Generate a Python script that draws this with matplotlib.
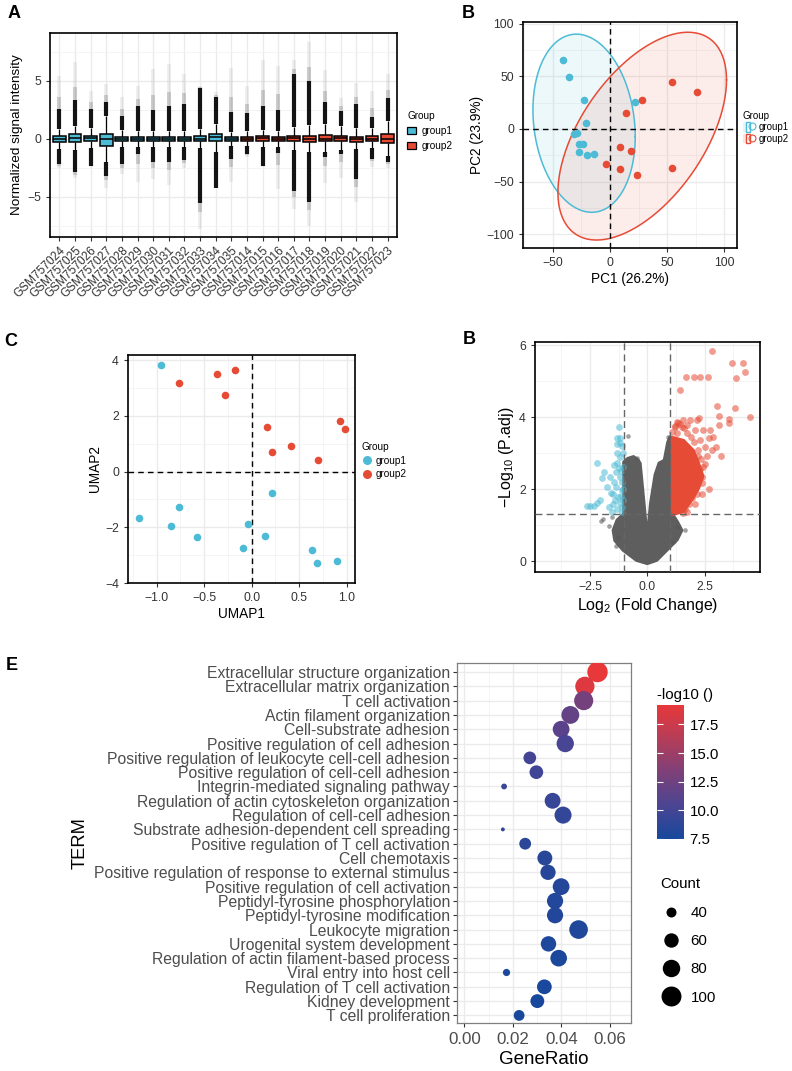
import numpy as np
import matplotlib as mpl
import matplotlib.pyplot as plt
from matplotlib.patches import Patch
from matplotlib.lines import Line2D
from matplotlib.legend_handler import HandlerTuple
from matplotlib.colors import LinearSegmentedColormap, Normalize

plt.rcParams['font.family'] = ['Liberation Sans', 'DejaVu Sans']
plt.rcParams['mathtext.default'] = 'regular'

W, H = 792, 1071
BLUE = '#4DBBD5'
RED = '#E64B35'

# ---------------- data ----------------
# A: boxplot summaries per sample
samples = ['GSM757024', 'GSM757025', 'GSM757026', 'GSM757027', 'GSM757028', 'GSM757029',
           'GSM757030', 'GSM757031', 'GSM757032', 'GSM757033', 'GSM757034', 'GSM757035',
           'GSM757014', 'GSM757015', 'GSM757016', 'GSM757017', 'GSM757018', 'GSM757019',
           'GSM757020', 'GSM757021', 'GSM757022', 'GSM757023']
sample_group = [1] * 12 + [2] * 10
box_med = [0.0, 0.1, 0.05, 0.0, 0.0, 0.0, 0.0, 0.0, 0.0, 0.0, 0.15, 0.0,
           0.0, 0.05, 0.0, 0.05, 0.0, 0.0, 0.05, -0.05, 0.0, 0.0]
box_q1 = [-0.3, -0.25, -0.2, -0.6, -0.2, -0.15, -0.15, -0.15, -0.15, -0.2, -0.2, -0.15,
          -0.15, -0.15, -0.15, -0.2, -0.25, -0.2, -0.15, -0.25, -0.2, -0.35]
box_q3 = [0.25, 0.4, 0.25, 0.4, 0.15, 0.15, 0.15, 0.15, 0.15, 0.2, 0.45, 0.15,
          0.15, 0.2, 0.15, 0.25, 0.25, 0.3, 0.2, 0.15, 0.2, 0.4]
whisk_lo = [-0.85, -1.0, -0.8, -2.0, -0.7, -0.7, -0.7, -0.7, -0.7, -0.8, -1.1, -0.6,
            -0.6, -0.7, -0.7, -1.0, -1.1, -1.1, -1.0, -0.9, -0.8, -1.5]
whisk_hi = [0.85, 1.1, 0.9, 2.0, 0.75, 0.7, 0.7, 0.7, 0.7, 0.8, 1.3, 0.6,
            0.7, 0.75, 0.7, 1.0, 1.2, 1.3, 1.1, 0.9, 0.9, 1.5]
dense_lo = [-2.2, -2.9, -2.3, -3.2, -2.2, -1.3, -2.0, -2.0, -1.8, -5.5, -4.2, -1.7,
            -1.3, -2.3, -1.2, -4.5, -5.4, -1.6, -1.3, -3.5, -1.7, -2.0]
dense_hi = [2.6, 3.3, 2.6, 3.2, 2.0, 2.8, 2.5, 2.8, 3.0, 4.4, 3.6, 2.3,
            2.2, 2.8, 2.5, 5.6, 5.0, 3.2, 2.4, 3.0, 1.9, 3.5]
out_lo = [-2.5, -3.4, -2.4, -4.2, -3.0, -3.7, -3.5, -4.0, -2.5, -7.8, -4.2, -3.7,
          -1.6, -2.4, -4.3, -6.0, -7.5, -3.8, -3.4, -5.4, -2.4, -2.5]
out_hi = [5.4, 6.6, 4.1, 4.7, 3.6, 4.5, 6.0, 6.4, 5.6, 4.5, 4.0, 6.1,
          4.5, 6.8, 6.3, 6.8, 8.3, 5.9, 3.5, 4.8, 4.1, 5.6]

# B: PCA scores
pc1_g1 = [-41.4, -35.8, -23.1, -21.1, -31.8, -28.7, -26.9, -23.4, -26.9, -20.5, -13.9, 22.0]
pc2_g1 = [65.7, 48.9, 27.6, 5.4, -5.1, -3.5, -14.6, -14.0, -22.2, -24.4, -23.8, 25.1]
pc1_g2 = [53.8, 76.1, 28.4, 13.6, 8.7, 18.2, -3.5, 8.7, 23.4, 54.4]
pc2_g2 = [44.4, 34.9, 27.6, 14.9, -17.1, -20.6, -33.3, -38.1, -43.5, -37.5]

# C: UMAP
um1_g1 = [-0.951, -0.761, -1.189, -0.846, -0.575, -0.039, -0.091, 0.214, 0.144, 0.635, 0.688, 0.898]
um2_g1 = [3.84, -1.27, -1.67, -1.94, -2.36, -1.88, -2.75, -0.77, -2.30, -2.80, -3.28, -3.20]
um1_g2 = [-0.761, -0.365, -0.172, -0.281, 0.165, 0.218, 0.411, 0.695, 0.926, 0.986]
um2_g2 = [3.20, 3.51, 3.66, 2.76, 1.62, 0.70, 0.91, 0.41, 1.82, 1.52]

# D: volcano
up_fc = [2.83, 3.69, 4.18, 4.27, 3.87, 1.69, 2.02, 2.30, 2.64, 1.41, 4.47, 3.83, 3.55, 3.55,
         3.03, 3.15, 3.12, 3.21, 3.00, 2.68, 2.40, 2.24, 2.71, 1.75, 2.45, 2.15, 1.86, 1.57,
         1.28, 1.21, 1.50, 1.72, 2.08, 2.45, 2.74, 2.88, 2.30, 2.52, 2.81, 2.23, 2.59, 2.37,
         2.08, 2.15, 2.01, 2.37,
         1.10, 1.30, 1.45, 1.60, 1.75, 1.90, 2.05, 2.20, 2.35, 2.50, 2.30, 2.20, 2.10, 1.95,
         1.80, 1.65, 1.85, 2.00, 1.70, 2.10, 1.55, 1.35, 1.20]
up_p = [5.84, 5.52, 5.52, 5.26, 5.09, 5.12, 5.12, 5.12, 5.12, 4.77, 4.02, 4.27, 3.95, 3.85,
        4.32, 4.03, 3.79, 2.92, 3.17, 2.00, 1.86, 3.97, 3.42, 1.37, 2.63, 3.93, 3.93, 3.93,
        3.88, 3.74, 3.74, 3.79, 3.65, 3.65, 3.65, 3.46, 3.37, 3.18, 3.09, 2.91, 2.91, 2.35,
        2.12, 1.88, 2.53, 2.16,
        3.60, 3.55, 3.80, 3.70, 3.55, 3.45, 3.30, 3.10, 2.85, 2.70, 2.55, 2.30, 2.00, 1.75,
        1.60, 1.45, 2.25, 2.70, 3.00, 1.60, 1.35, 3.85, 3.75]
down_fc = [-1.25, -1.31, -1.19, -1.34, -1.19, -1.05, -2.21, -1.46, -1.31, -1.91, -1.99,
           -1.63, -1.37, -1.77, -1.37, -1.49, -2.07, -2.21, -2.50, -2.62, -2.31, -1.66,
           -1.19, -1.55, -1.19, -1.12, -1.26, -1.12, -1.08,
           -1.05, -1.10, -1.15, -1.25, -1.05, -1.10, -1.30, -1.20, -1.30, -1.10, -1.45,
           -1.50, -1.60, -1.40, -1.15]
down_p = [3.72, 3.42, 3.42, 3.25, 3.28, 3.00, 2.74, 2.67, 2.72, 2.49, 2.30, 2.35, 2.49,
          2.07, 2.07, 1.88, 1.70, 1.61, 1.53, 1.53, 1.53, 1.51, 1.61, 1.37, 2.35, 1.98,
          1.79, 1.37, 2.63,
          2.00, 2.20, 2.50, 2.60, 1.70, 1.50, 1.45, 2.90, 3.00, 3.20, 2.20, 1.60, 1.90,
          1.70, 1.80]
ns_fc = [-2.02, -1.92, -1.67, -1.37, -1.26, -0.83, -0.47, 0.92, 1.64, 1.13, 1.28, -1.55]
ns_p = [1.12, 1.16, 0.98, 0.42, 0.68, 3.48, 2.86, 3.44, 0.86, 0.54, 0.96, 1.23]
# outline of the dense non-significant cloud
ns_cloud_fc = [0.0, -0.47, -1.05, -1.41, -1.48, -1.31, -1.02, -1.02, -0.85, -0.6, -0.4,
               -0.32, -0.15, 0.0, 0.15, 0.35, 0.52, 0.75, 0.9, 1.0, 1.08, 1.08, 1.3, 1.5,
               1.3, 0.99, 0.41, 0.0]
ns_cloud_p = [-0.06, 0.03, 0.31, 0.58, 0.86, 1.14, 1.31, 2.75, 2.85, 2.9, 2.8, 2.72, 1.6,
              0.58, 1.6, 2.4, 2.72, 2.8, 3.3, 3.45, 3.3, 1.31, 1.1, 0.86, 0.6, 0.4, 0.03,
              -0.06]
# envelope of the dense up-regulated cloud
up_cloud_fc = [1.06, 1.13, 1.57, 2.0, 2.23, 2.4]
up_cloud_hi = [3.45, 3.45, 3.37, 3.09, 2.72, 2.4]
up_cloud_lo = [1.31, 1.31, 1.40, 1.79, 2.05, 2.35]

# E: GO enrichment
terms = ['Extracellular structure organization', 'Extracellular matrix organization',
         'T cell activation', 'Actin filament organization', 'Cell-substrate adhesion',
         'Positive regulation of cell adhesion',
         'Positive regulation of leukocyte cell-cell adhesion',
         'Positive regulation of cell-cell adhesion', 'Integrin-mediated signaling pathway',
         'Regulation of actin cytoskeleton organization', 'Regulation of cell-cell adhesion',
         'Substrate adhesion-dependent cell spreading',
         'Positive regulation of T cell activation', 'Cell chemotaxis',
         'Positive regulation of response to external stimulus',
         'Positive regulation of cell activation', 'Peptidyl-tyrosine phosphorylation',
         'Peptidyl-tyrosine modification', 'Leukocyte migration',
         'Urogenital system development', 'Regulation of actin filament-based process',
         'Viral entry into host cell', 'Regulation of T cell activation',
         'Kidney development', 'T cell proliferation']
gene_ratio = [0.0549, 0.0497, 0.0492, 0.0437, 0.0399, 0.0416, 0.0270, 0.0297, 0.0164,
              0.0364, 0.0407, 0.0159, 0.0251, 0.0332, 0.0345, 0.0399, 0.0374, 0.0374,
              0.0471, 0.0347, 0.0389, 0.0174, 0.0330, 0.0301, 0.0226]
gene_count = [104, 94, 93, 83, 75, 79, 51, 56, 31, 69, 77, 30, 47, 63, 65, 75, 71, 71,
              89, 66, 74, 33, 62, 57, 43]
neg_log_p = [19.2, 18.6, 12.8, 11.8, 11.3, 10.2, 10.0, 9.8, 9.5, 9.3, 9.1, 8.9, 8.7, 8.5,
             8.4, 8.3, 8.2, 8.1, 8.0, 7.9, 7.8, 7.7, 7.6, 7.55, 7.5]

# ---------------- figure ----------------
fig = plt.figure(figsize=(W / 100, H / 100), dpi=100)


def add_ax(l, t, r, b):
    return fig.add_axes([l / W, 1 - b / H, (r - l) / W, (b - t) / H])


def style(ax, border='black', lw=1.2, tickcol='#333333', fs=8.8):
    for s in ax.spines.values():
        s.set_color(border)
        s.set_linewidth(lw)
    ax.grid(which='major', color='#EBEBEB', lw=1.0)
    ax.grid(which='minor', color='#F2F2F2', lw=0.6)
    ax.set_axisbelow(True)
    ax.tick_params(which='major', length=3, width=0.8, color='#333333',
                   labelsize=fs, labelcolor=tickcol)
    ax.tick_params(which='minor', length=0)


# ---- A: boxplots ----
axA = add_ax(50, 33, 397, 237)
xs = np.arange(len(samples))
box_cols = [BLUE if g == 1 else RED for g in sample_group]
dlo, dhi = np.array(dense_lo), np.array(dense_hi)
olo, ohi = np.array(out_lo), np.array(out_hi)
mlo = dlo + 0.35 * (olo - dlo)
mhi = dhi + 0.35 * (ohi - dhi)
axA.vlines(xs, mhi, ohi, color='black', alpha=0.06, lw=2.9, zorder=2)
axA.vlines(xs, olo, mlo, color='black', alpha=0.06, lw=2.9, zorder=2)
axA.vlines(xs, dhi, mhi, color='black', alpha=0.2, lw=2.9, zorder=2)
axA.vlines(xs, mlo, dlo, color='black', alpha=0.2, lw=2.9, zorder=2)
axA.vlines(xs, whisk_hi, dhi, color='black', alpha=0.92, lw=3.0, zorder=2)
axA.vlines(xs, dlo, whisk_lo, color='black', alpha=0.92, lw=3.0, zorder=2)
axA.vlines(xs, box_q3, whisk_hi, color='black', lw=0.9, zorder=3)
axA.vlines(xs, whisk_lo, box_q1, color='black', lw=0.9, zorder=3)
axA.bar(xs, np.array(box_q3) - np.array(box_q1), bottom=box_q1, width=0.82,
        color=box_cols, edgecolor='black', lw=1.1, zorder=4)
axA.hlines(box_med, xs - 0.41, xs + 0.41, color='black', lw=1.1, zorder=5)
axA.set_xlim(-0.6, len(samples) - 0.4)
axA.set_ylim(-8.45, 9.1)
axA.set_yticks([-5, 0, 5])
axA.set_yticklabels(['\u22125', '0', '5'])
axA.set_yticks([-7.5, -2.5, 2.5, 7.5], minor=True)
axA.set_xticks(xs)
axA.set_xticklabels(samples, rotation=45, ha='right', rotation_mode='anchor')
style(axA)
axA.tick_params(axis='x', labelsize=8.6, pad=2)
axA.set_ylabel('Normalized signal intensity', fontsize=9.7, labelpad=3)
hA = [Patch(facecolor=c, edgecolor='black', lw=0.9) for c in (BLUE, RED)]
legA = fig.legend(hA, ['group1', 'group2'], loc='upper left',
                  bbox_to_anchor=(400 / W, 1 - 104 / H), frameon=False, title='Group',
                  fontsize=7.2, title_fontsize=7.2, handlelength=0.9, handleheight=0.6,
                  handletextpad=0.6, labelspacing=0.5, borderpad=0.2)
legA._legend_box.align = 'left'

# ---- B: PCA ----
def ellipse_pts(x, y, level=0.95, n=200):
    pts = np.column_stack([x, y])
    center = pts.mean(axis=0)
    cov = np.cov(pts.T)
    dfd = len(x) - 1
    fq = dfd / 2 * ((1 - level) ** (-2 / dfd) - 1)  # F(level; 2, dfd)
    radius = np.sqrt(2 * fq)
    t = np.linspace(0, 2 * np.pi, n)
    circle = np.column_stack([np.cos(t), np.sin(t)])
    return center + radius * circle @ np.linalg.cholesky(cov).T


axB = add_ax(523, 22, 737, 248)
for px, py, c in ((pc1_g1, pc2_g1, BLUE), (pc1_g2, pc2_g2, RED)):
    e = ellipse_pts(px, py)
    axB.fill(e[:, 0], e[:, 1], facecolor=c, alpha=0.1, edgecolor='none', zorder=2)
    axB.plot(e[:, 0], e[:, 1], color=c, lw=1.1, zorder=3)
axB.axvline(0, color='black', ls=(0, (4, 3)), lw=1.0, zorder=4)
axB.axhline(0, color='black', ls=(0, (4, 3)), lw=1.0, zorder=4)
axB.scatter(pc1_g1, pc2_g1, s=30, color=BLUE, lw=0, zorder=5)
axB.scatter(pc1_g2, pc2_g2, s=30, color=RED, lw=0, zorder=5)
axB.set_xlim(-76, 111)
axB.set_ylim(-113, 101.5)
axB.set_xticks([-50, 0, 50, 100])
axB.set_xticklabels(['\u221250', '0', '50', '100'])
axB.set_xticks([-75, -25, 25, 75], minor=True)
axB.set_yticks([-100, -50, 0, 50, 100])
axB.set_yticklabels(['\u2212100', '\u221250', '0', '50', '100'])
axB.set_yticks([-75, -25, 25, 75], minor=True)
style(axB)
axB.set_xlabel('PC1 (26.2%)', fontsize=9.8, labelpad=2)
axB.set_ylabel('PC2 (23.9%)', fontsize=9.8, labelpad=2)
hB = [(Patch(facecolor=c, alpha=0.15, edgecolor='none'),
       Patch(facecolor='none', edgecolor=c, lw=1.0),
       Line2D([], [], marker='o', ls='', mfc='none', mec=c, ms=5, mew=0.8)) for c in (BLUE, RED)]
legB = fig.legend(hB, ['group1', 'group2'], loc='upper left',
                  bbox_to_anchor=(736 / W, 1 - 104 / H), frameon=False, title='Group',
                  fontsize=7, title_fontsize=7, handlelength=1.1, handleheight=1.1,
                  handletextpad=0.5, labelspacing=0.15, borderpad=0.2,
                  handler_map={tuple: HandlerTuple(ndivide=None, pad=0)})
legB._legend_box.align = 'left'

# ---- C: UMAP ----
axC = add_ax(128, 355, 355, 583)
axC.axvline(0, color='black', ls=(0, (4, 3)), lw=1.0, zorder=3)
axC.axhline(0, color='black', ls=(0, (4, 3)), lw=1.0, zorder=3)
axC.scatter(um1_g1, um2_g1, s=30, color=BLUE, lw=0, zorder=4)
axC.scatter(um1_g2, um2_g2, s=30, color=RED, lw=0, zorder=4)
axC.set_xlim(-1.30, 1.087)
axC.set_ylim(-4.0, 4.19)
axC.set_xticks([-1.0, -0.5, 0.0, 0.5, 1.0])
axC.set_xticklabels(['\u22121.0', '\u22120.5', '0.0', '0.5', '1.0'])
axC.set_xticks([-1.25, -0.75, -0.25, 0.25, 0.75], minor=True)
axC.set_yticks([-4, -2, 0, 2, 4])
axC.set_yticklabels(['\u22124', '\u22122', '0', '2', '4'])
axC.set_yticks([-3, -1, 1, 3], minor=True)
style(axC)
axC.set_xlabel('UMAP1', fontsize=9.8, labelpad=2)
axC.set_ylabel('UMAP2', fontsize=9.8, labelpad=2)
hC = [Line2D([], [], marker='o', ls='', color=c, ms=6.5, mew=0) for c in (BLUE, RED)]
legC = fig.legend(hC, ['group1', 'group2'], loc='upper left',
                  bbox_to_anchor=(355 / W, 1 - 435 / H), frameon=False, title='Group',
                  fontsize=7.2, title_fontsize=7.2, handlelength=1.0, handletextpad=0.4,
                  labelspacing=0.35, borderpad=0.2)
legC._legend_box.align = 'left'

# ---- D: volcano ----
axD = add_ax(535, 342, 760, 572)
axD.fill(ns_cloud_fc, ns_cloud_p, facecolor='#5E5E5E', edgecolor='#5E5E5E', lw=2.5,
         joinstyle='round', zorder=2)
axD.scatter(ns_fc, ns_p, s=11, color='#555555', alpha=0.55, lw=0, zorder=2)
axD.fill_between(up_cloud_fc, up_cloud_lo, up_cloud_hi, facecolor='#E64B35',
                 edgecolor='#E64B35', lw=2.0, zorder=3)
axD.scatter(up_fc, up_p, s=24, color=RED, alpha=0.55, lw=0, zorder=4)
axD.scatter(down_fc, down_p, s=24, color=BLUE, alpha=0.55, lw=0, zorder=4)
for v in (-1, 1):
    axD.axvline(v, color='#666666', ls=(0, (5, 3)), lw=1.0, zorder=5)
axD.axhline(-np.log10(0.05), color='#666666', ls=(0, (5, 3)), lw=1.0, zorder=5)
axD.set_xlim(-4.9, 4.92)
axD.set_ylim(-0.3, 6.09)
axD.set_xticks([-2.5, 0.0, 2.5])
axD.set_xticklabels(['\u22122.5', '0.0', '2.5'])
axD.set_xticks([-3.75, -1.25, 1.25, 3.75], minor=True)
axD.set_yticks([0, 2, 4, 6])
axD.set_yticks([1, 3, 5], minor=True)
style(axD)
axD.set_xlabel('Log$_2$ (Fold Change)', fontsize=11.5, labelpad=2)
axD.set_ylabel('\u2212Log$_{10}$ (P.adj)', fontsize=11.5, labelpad=2)

# ---- E: GO dot plot ----
axE = add_ax(457, 663, 631, 1023)
cmap = LinearSegmentedColormap.from_list(
    'golog', [(0.0, '#17489C'), (0.25, '#4B4593'), (0.5, '#7E4078'),
              (0.75, '#B53D58'), (1.0, '#E8383A')])
norm = Normalize(7.5, 19.2)
cnt = np.array(gene_count, dtype=float)
cmin, cmax = cnt.min(), cnt.max()
dmin_px, dmax_px = 3.9, 20.4


def size_of(c):
    d = dmin_px + (dmax_px - dmin_px) * np.sqrt((np.asarray(c, float) - cmin) / (cmax - cmin))
    return d * 0.72


ypos = np.arange(len(terms))
axE.scatter(gene_ratio, ypos, s=size_of(cnt) ** 2, c=neg_log_p, cmap=cmap, norm=norm,
            lw=0, zorder=3)
axE.set_xlim(-0.003, 0.0687)
axE.set_ylim(len(terms) - 0.47, -0.63)
axE.set_yticks(ypos)
axE.set_yticklabels(terms)
axE.set_xticks([0.0, 0.02, 0.04, 0.06])
axE.set_xticklabels(['0.00', '0.02', '0.04', '0.06'])
axE.set_xticks([0.01, 0.03, 0.05], minor=True)
style(axE, border='#7F7F7F', lw=0.9, tickcol='#4D4D4D', fs=12.2)
axE.tick_params(axis='y', labelsize=11.3, pad=2)
axE.set_xlabel('GeneRatio', fontsize=13.5, labelpad=3)
axE.set_ylabel('TERM', fontsize=13.2, labelpad=4)

cax = add_ax(657, 705, 684, 839)
cb = mpl.colorbar.ColorbarBase(cax, cmap=cmap, norm=norm, orientation='vertical')
cb.outline.set_visible(False)
cb.set_ticks([7.5, 10.0, 12.5, 15.0, 17.5])
cax.yaxis.set_ticks_position('both')
cax.tick_params(axis='y', direction='in', color='white', length=4, width=0.8,
                labelleft=False, labelright=True, labelsize=10.8, pad=4)
fig.text(657 / W, 1 - 695 / H, '-log10 ()', fontsize=10.8, va='center', ha='left')

count_breaks = [40, 60, 80, 100]
hE = [Line2D([], [], marker='o', ls='', color='black', ms=float(size_of(b)), mew=0)
      for b in count_breaks]
legE = fig.legend(hE, [str(b) for b in count_breaks], loc='upper left',
                  bbox_to_anchor=(650 / W, 1 - 867 / H), frameon=False, title='Count',
                  fontsize=10.8, title_fontsize=10.8, handlelength=1.4,
                  handletextpad=0.6, labelspacing=0.95, borderpad=0.2)
legE._legend_box.align = 'left'

# panel letters
for lx, ly, s in ((8, 14, 'A'), (462, 14, 'B'), (4, 341, 'C'), (463, 339, 'B'), (6, 666, 'E')):
    fig.text(lx / W, 1 - ly / H, s, fontsize=13, fontweight='bold', va='center', ha='left')

fig.savefig('out.png', dpi=100)
